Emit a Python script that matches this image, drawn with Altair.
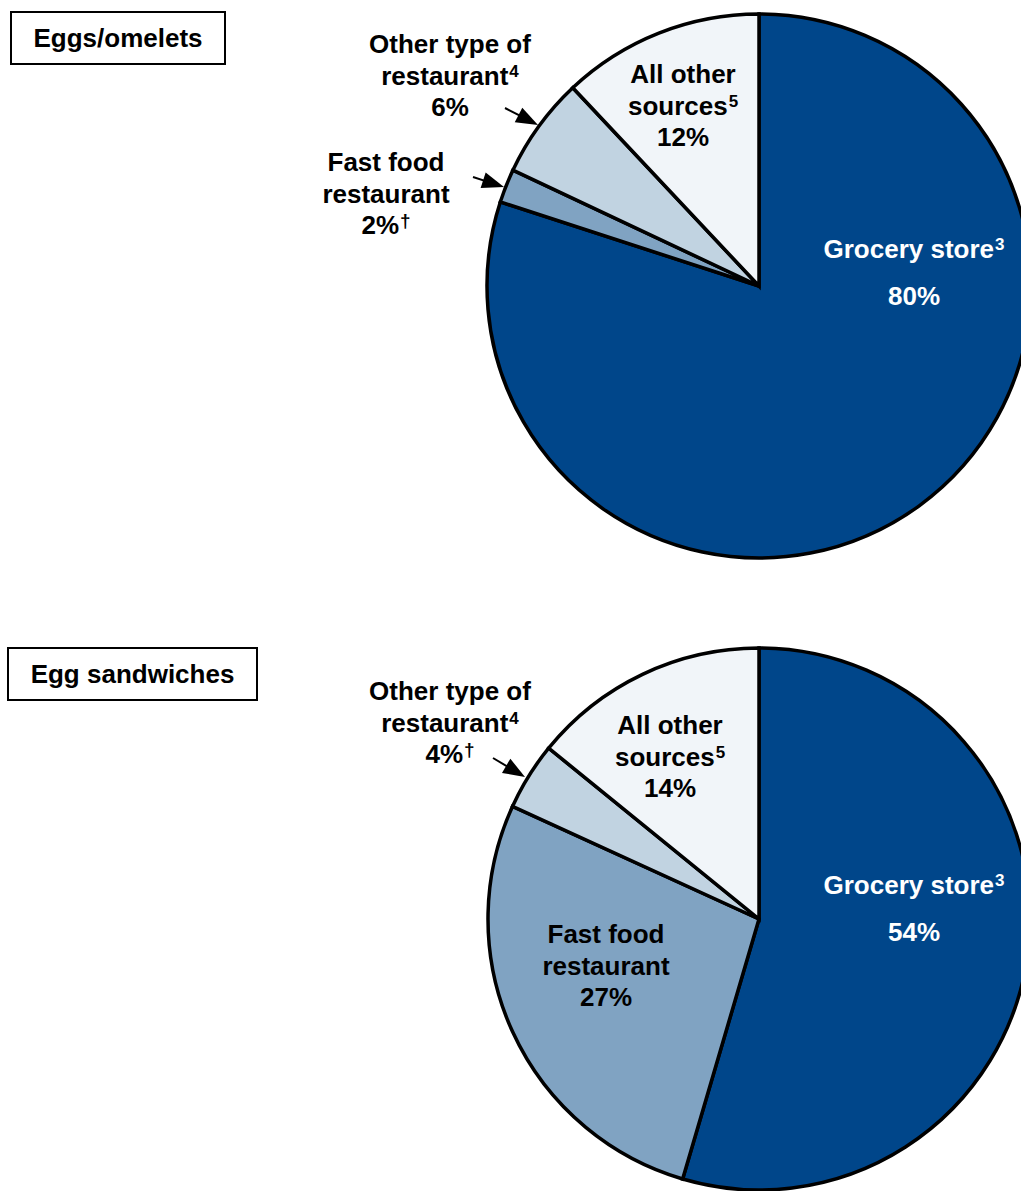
import math
import altair as alt
import pandas as pd

# ---- data -------------------------------------------------------------
categories = [
    "Grocery store",
    "Fast food restaurant",
    "Other type of restaurant",
    "All other sources",
]
footnotes = ["3", "", "4", "5"]
colors = ["#00468A", "#80A3C2", "#C1D3E1", "#F1F5F9"]

omelet_share = [80, 2, 6, 12]
omelet_dagger = [False, True, False, False]

sandwich_share = [54, 27, 4, 14]
sandwich_dagger = [False, False, True, False]

name_lines = [
    ["Grocery store"],
    ["Fast food", "restaurant"],
    ["Other type of", "restaurant"],
    ["All other", "sources"],
]

# ---- layout -----------------------------------------------------------
FONT = "Liberation Sans"
SIZE = 26
SUP = 17
DAGGER = 19
LINE = 31.5

panels = [
    {
        "title": "Eggs/omelets",
        "box": (11, 12, 225, 64),
        "center": (759, 286),
        "radius": 272,
        "share": omelet_share,
        "dagger": omelet_dagger,
        # label anchor per category: (center x, first line cap-centre y)
        "anchors": [(914, 249), (386, 162), (450, 44), (683, 74)],
        "arrows": {1: ((473, 177), (504, 187)), 2: ((505, 108), (538, 125))},
    },
    {
        "title": "Egg sandwiches",
        "box": (8, 648, 257, 700),
        "center": (759, 919),
        "radius": 271,
        "share": sandwich_share,
        "dagger": sandwich_dagger,
        "anchors": [(914, 885), (606, 934), (450, 691), (670, 725)],
        "arrows": {2: ((493, 758), (525, 777))},
    },
]

# Arial / Liberation Sans Bold advance widths (per 1000 em)
ADV = {
    " ": 278, "%": 889, "A": 722, "F": 611, "G": 778, "O": 778,
    "a": 556, "c": 556, "d": 611, "e": 556, "f": 333, "h": 611,
    "l": 278, "n": 611, "o": 611, "p": 611, "r": 389, "s": 556,
    "t": 333, "u": 611, "y": 556, "\u2020": 556,
}


def text_width(s, size):
    return sum(ADV.get(ch, 556) for ch in s) * size / 1000.0


centered_rows, left_rows, sup_rows = [], [], []
rule_rows, head_rows = [], []
arc_layers, box_rows, title_rows = [], [], []

for p in panels:
    df = pd.DataFrame(
        {
            "category": categories,
            "share": p["share"],
            "rank": list(range(len(categories))),
        }
    )
    cx, cy = p["center"]
    arc_layers.append(
        alt.Chart(df)
        .mark_arc(radius=p["radius"], stroke="black", strokeWidth=3.5)
        .encode(
            theta=alt.Theta("share:Q", stack="normalize"),
            color=alt.Color(
                "category:N",
                scale=alt.Scale(domain=categories, range=colors),
                legend=None,
            ),
            order=alt.Order("rank:Q"),
            x=alt.value(cx),
            y=alt.value(cy),
        )
    )

    x0, y0, x1, y1 = p["box"]
    box_rows.append({"x": x0, "y": y0, "x2": x1, "y2": y1})
    title_rows.append({"text": p["title"], "px": (x0 + x1) / 2, "py": (y0 + y1) / 2 + 1})

    for i, cat in enumerate(categories):
        ax, ay = p["anchors"][i]
        col = "white" if i == 0 else "black"
        lines = list(name_lines[i])
        pct = f"{p['share'][i]}%"
        sups = [""] * (len(lines) - 1) + [footnotes[i]]
        lines.append(pct)
        sups.append("\u2020" if p["dagger"][i] else "")
        ys = [ay + LINE * k for k in range(len(lines) - 1)]
        ys.append(ys[-1] + (47 if i == 0 else LINE))
        for txt, sup, yy in zip(lines, sups, ys):
            if not sup:
                centered_rows.append({"text": txt, "px": ax, "py": yy + 1, "c": col})
            else:
                ssize = DAGGER if sup == "\u2020" else SUP
                wm = text_width(txt, SIZE)
                ws = text_width(sup, ssize)
                start = ax - (wm + 1 + ws) / 2
                left_rows.append({"text": txt, "px": start, "py": yy + 1, "c": col})
                sup_rows.append(
                    {"text": sup, "px": start + wm + 1, "py": yy - 4, "c": col, "s": ssize}
                )

    for (sx, sy), (tx, ty) in p["arrows"].values():
        ang = math.atan2(ty - sy, tx - sx)
        bx, by = tx - 16 * math.cos(ang), ty - 16 * math.sin(ang)
        rule_rows.append({"x": sx, "y": sy, "x2": bx, "y2": by})
        head_rows.append({"x": tx, "y": ty, "angle": math.degrees(ang)})


def px_enc(field):
    return alt.X(f"{field}:Q", scale=None, axis=None)


def py_enc(field):
    return alt.Y(f"{field}:Q", scale=None, axis=None)


def text_layer(rows, align, size):
    return (
        alt.Chart(pd.DataFrame(rows))
        .mark_text(align=align, baseline="middle", font=FONT, fontWeight="bold", fontSize=size)
        .encode(
            x=px_enc("px"),
            y=py_enc("py"),
            text="text:N",
            color=alt.Color("c:N", scale=None),
        )
    )


sup_layer = (
    alt.Chart(pd.DataFrame(sup_rows))
    .mark_text(align="left", baseline="middle", font=FONT, fontWeight="bold")
    .encode(
        x=px_enc("px"),
        y=py_enc("py"),
        text="text:N",
        color=alt.Color("c:N", scale=None),
        size=alt.Size("s:Q", scale=None),
    )
)

boxes = (
    alt.Chart(pd.DataFrame(box_rows))
    .mark_rect(fill="white", stroke="black", strokeWidth=2)
    .encode(x=px_enc("x"), x2="x2:Q", y=py_enc("y"), y2="y2:Q")
)
titles = (
    alt.Chart(pd.DataFrame(title_rows))
    .mark_text(align="center", baseline="middle", font=FONT, fontWeight="bold", fontSize=SIZE, color="black")
    .encode(x=px_enc("px"), y=py_enc("py"), text="text:N")
)

shafts = (
    alt.Chart(pd.DataFrame(rule_rows))
    .mark_rule(color="black", strokeWidth=2)
    .encode(x=px_enc("x"), y=py_enc("y"), x2="x2:Q", y2="y2:Q")
)
heads = (
    alt.Chart(pd.DataFrame(head_rows))
    .mark_point(shape="M0,0 L-2,-0.75 L-2,0.75 Z", filled=True, color="black", opacity=1, size=480)
    .encode(x=px_enc("x"), y=py_enc("y"), angle=alt.Angle("angle:Q", scale=None))
)

chart = (
    alt.layer(
        *arc_layers,
        boxes,
        titles,
        text_layer(centered_rows, "center", SIZE),
        text_layer(left_rows, "left", SIZE),
        sup_layer,
        shafts,
        heads,
    )
    .properties(
        width=1021,
        height=1191,
        autosize=alt.AutoSizeParams(type="none"),
        padding=0,
        background="white",
    )
    .configure_view(stroke=None)
)

chart.save("out.html", embed_options={"renderer": "svg", "actions": False})
